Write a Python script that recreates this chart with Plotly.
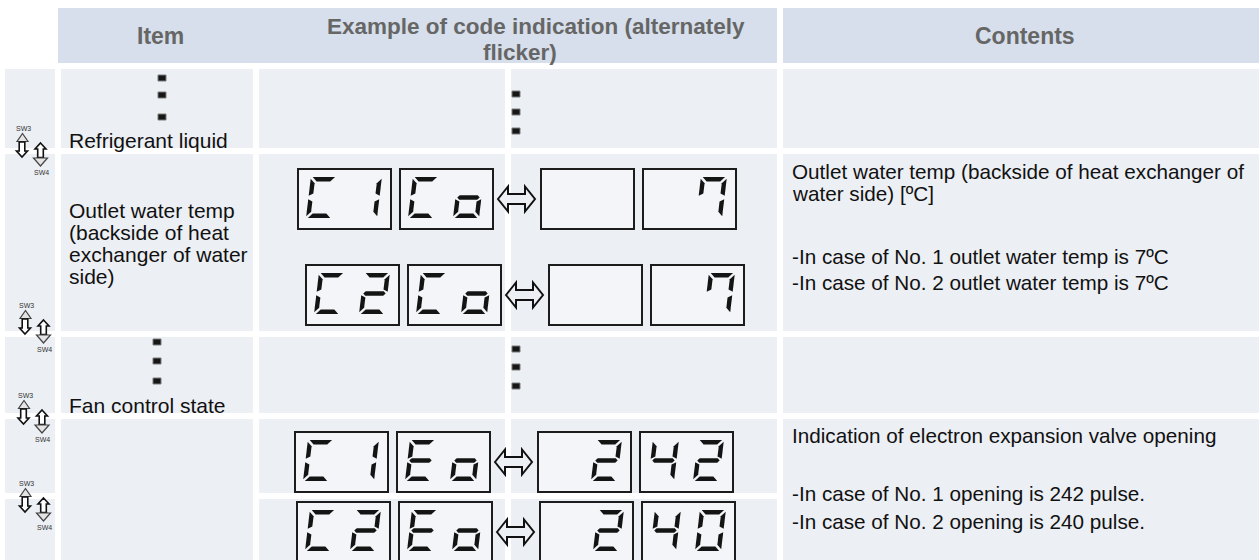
import plotly.graph_objects as go

FIG_W, FIG_H = 1259, 560

# ---------------- data ----------------
header_item = "Item"
header_example = ["Example of code indication (alternately", "flicker)"]
header_contents = "Contents"

item_refrigerant = "Refrigerant liquid"
item_outlet = ["Outlet water temp", "(backside of heat", "exchanger of water", "side)"]
item_fan = "Fan control state"

contents_outlet = ["Outlet water temp (backside of heat exchanger of", "water side) [ºC]",
                   "-In case of No. 1 outlet water temp is 7ºC",
                   "-In case of No. 2 outlet water temp is 7ºC"]
contents_valve = ["Indication of electron expansion valve opening",
                  "-In case of No. 1 opening is 242 pulse.",
                  "-In case of No. 2 opening is 240 pulse."]

code_unit = ["C1", "C2", "C1", "C2"]
code_item = ["Co", "Co", "Eo", "Eo"]
value_high = ["  ", "  ", " 2", " 2"]
value_low = [" 7", " 7", "42", "40"]

switch_names = ["SW3", "SW4"]

# ---------------- styles / layout ----------------
FONT = "Arial, Liberation Sans, sans-serif"
HEADER_FILL = "#D6DFEB"
BODY_FILL = "#ECEFF4"
HEADER_TXT = "#666666"
SEG_COLOR = "#141414"

col_x = [(5, 55), (61, 253), (259, 505), (511, 777), (783, 1259)]
rows_fine = [(69, 148), (154, 331), (337, 413), (419, 493), (499, 560)]
rows_coarse = [(69, 148), (154, 331), (337, 413), (419, 560)]
col_rows = [rows_fine, rows_coarse, rows_fine, rows_fine, rows_coarse]

display_pos = [(298, 169), (306, 265), (295, 432), (297, 502)]
switch_anchor = [(23.5, 128.5), (26.5, 305.5), (25, 395.5), (26.5, 483.5)]
dot_pos = [(162, 78), (162, 95), (162, 117), (516, 94), (516, 112), (516, 131),
           (157, 342), (157, 361), (157, 381), (516, 349), (516, 367), (516, 386)]

shapes = []
annotations = []


def path_of(pts):
    return "M " + " L ".join(f"{x:.2f},{y:.2f}" for x, y in pts) + " Z"


def add_rect(x0, y0, x1, y1, fill, lc=None, lw=0):
    shapes.append(dict(type="rect", xref="x", yref="y", x0=x0, y0=y0, x1=x1, y1=y1,
                       fillcolor=fill, line=dict(width=lw, color=lc or fill)))


def add_poly(pts, fill, lc=None, lw=0):
    shapes.append(dict(type="path", xref="x", yref="y", path=path_of(pts),
                       fillcolor=fill, line=dict(width=lw, color=lc or fill)))


def add_text(x, baseline, s, size, color="#111111", bold=False, xanchor="left"):
    if not s:
        return
    annotations.append(dict(x=x, y=baseline - 0.35 * size, xref="x", yref="y",
                            text=f"<b>{s}</b>" if bold else s, showarrow=False,
                            xanchor=xanchor, yanchor="middle", borderpad=0,
                            font=dict(family=FONT, size=size, color=color)))


# header
add_rect(58, 8, 777, 63, HEADER_FILL)
add_rect(783, 8, 1259, 63, HEADER_FILL)
add_text(160, 44.5, header_item, 23, HEADER_TXT, True, "center")
add_text(1025, 44.5, header_contents, 23, HEADER_TXT, True, "center")
add_text(536, 34, header_example[0], 22.5, HEADER_TXT, True, "center")
add_text(520, 60, header_example[1], 22.5, HEADER_TXT, True, "center")

# body cells
for (cx0, cx1), rows in zip(col_x, col_rows):
    for (ry0, ry1) in rows:
        add_rect(cx0, ry0, cx1, ry1, BODY_FILL)

# item texts
add_text(68, 148, item_refrigerant, 21)
for i, line in enumerate(item_outlet):
    add_text(68, 218.3 + 21.7 * i, line, 21)
add_text(68, 412.7, item_fan, 21)

# contents texts
for line, base in zip(contents_outlet, [178.5, 200.5, 263.3, 290]):
    add_text(791, base, line, 20.7)
for line, base in zip(contents_valve, [442.3, 500.7, 528.3]):
    add_text(791, base, line, 20.7)

# vertical-dots markers
for (dx, dy) in dot_pos:
    add_rect(dx - 4, dy - 3, dx + 4, dy + 3, "#161616", "#7a7a7a", 1)

# seven segment digits
DW, DH, DT, DG, SL = 26, 41, 4.4, 1.8, 0.12
M = DH / 2
SEG_SHAPES = {
    "a": [(DG, DH), (DW - DG, DH), (DW - DG - DT, DH - DT), (DG + DT, DH - DT)],
    "d": [(DG, 0), (DW - DG, 0), (DW - DG - DT, DT), (DG + DT, DT)],
    "f": [(0, DH - DG), (DT, DH - DG - DT), (DT, M + DG + DT / 2), (0, M + DG)],
    "e": [(0, DG), (DT, DG + DT), (DT, M - DG - DT / 2), (0, M - DG)],
    "b": [(DW, DH - DG), (DW - DT, DH - DG - DT), (DW - DT, M + DG + DT / 2), (DW, M + DG)],
    "c": [(DW, DG), (DW - DT, DG + DT), (DW - DT, M - DG - DT / 2), (DW, M - DG)],
    "g": [(DG, M), (DG + DT / 2, M + DT / 2), (DW - DG - DT / 2, M + DT / 2), (DW - DG, M),
          (DW - DG - DT / 2, M - DT / 2), (DG + DT / 2, M - DT / 2)],
}
CHAR_SEGS = {"C": "afed", "1": "bc", "o": "cdeg", "2": "abged", "E": "afged",
             "7": "abcf", "4": "fgbc", "0": "abcdef", " ": ""}

BOX_W, BOX_H = 93, 60


def draw_box(bx, by, chars):
    add_rect(bx, by, bx + BOX_W, by + BOX_H, "#F4F5F8", "#1c1c1c", 2)
    for ch, ox in zip(chars, (bx + 8, bx + 53)):
        oy = by + 49
        for s in CHAR_SEGS[ch]:
            pts = [(ox + u + SL * v, oy - v) for u, v in SEG_SHAPES[s]]
            add_poly(pts, SEG_COLOR)


def draw_double_arrow(x0, x1, yc):
    hd, hh, sh = 10, 12.5, 5
    pts = [(x0, yc), (x0 + hd, yc - hh), (x0 + hd, yc - sh), (x1 - hd, yc - sh),
           (x1 - hd, yc - hh), (x1, yc), (x1 - hd, yc + hh), (x1 - hd, yc + sh),
           (x0 + hd, yc + sh), (x0 + hd, yc + hh)]
    add_poly(pts, BODY_FILL, "#111111", 2)


for i, (X, Y) in enumerate(display_pos):
    draw_box(X, Y, code_unit[i])
    draw_box(X + 102, Y, code_item[i])
    draw_double_arrow(X + 200, X + 237, Y + BOX_H / 2)
    draw_box(X + 243, Y, value_high[i])
    draw_box(X + 345, Y, value_low[i])


# switch icons
def block_arrow(cx, yt, yb, up):
    sw, hw, hl = 2.8, 5.5, 6
    if up:
        pts = [(cx, yt), (cx + hw, yt + hl), (cx + sw, yt + hl), (cx + sw, yb),
               (cx - sw, yb), (cx - sw, yt + hl), (cx - hw, yt + hl)]
    else:
        pts = [(cx - sw, yt), (cx + sw, yt), (cx + sw, yb - hl), (cx + hw, yb - hl),
               (cx, yb), (cx - hw, yb - hl), (cx - sw, yb - hl)]
    add_poly(pts, "#ffffff", "#111111", 1.6)


for (ax, ay) in switch_anchor:
    add_poly([(ax - 1, ay + 5), (ax + 4.5, ay + 13), (ax - 6.5, ay + 13)], "#e4e4e4", "#444444", 1.2)
    block_arrow(ax - 1.5, ay + 13.5, ay + 28.5, False)
    block_arrow(ax + 17, ay + 14.5, ay + 29, True)
    shapes.append(dict(type="line", xref="x", yref="y", x0=ax + 13, x1=ax + 21,
                       y0=ay + 29.5, y1=ay + 29.5, line=dict(color="#222222", width=1.2)))
    add_poly([(ax + 10, ay + 29.5), (ax + 24, ay + 29.5), (ax + 17, ay + 37.5)], "#e4e4e4", "#444444", 1.2)
    annotations.append(dict(x=ax, y=ay, xref="x", yref="y", text=switch_names[0], showarrow=False,
                            xanchor="center", yanchor="middle", borderpad=0,
                            font=dict(family=FONT, size=7, color="#333333")))
    annotations.append(dict(x=ax + 17.5, y=ay + 44, xref="x", yref="y", text=switch_names[1],
                            showarrow=False, xanchor="center", yanchor="middle", borderpad=0,
                            font=dict(family=FONT, size=7, color="#333333")))

fig = go.Figure()
fig.add_trace(go.Scatter(x=[0, FIG_W], y=[0, FIG_H], mode="markers",
                         marker=dict(opacity=0), hoverinfo="skip", showlegend=False))
fig.update_layout(
    width=FIG_W, height=FIG_H,
    margin=dict(l=0, r=0, t=0, b=0),
    paper_bgcolor="white", plot_bgcolor="white",
    xaxis=dict(range=[0, FIG_W], visible=False, fixedrange=True),
    yaxis=dict(range=[FIG_H, 0], visible=False, fixedrange=True),
    shapes=shapes, annotations=annotations, showlegend=False,
)
fig.write_html("out.html", config={"displayModeBar": False},
               post_script="document.body.style.margin='0';document.body.style.padding='0';")
